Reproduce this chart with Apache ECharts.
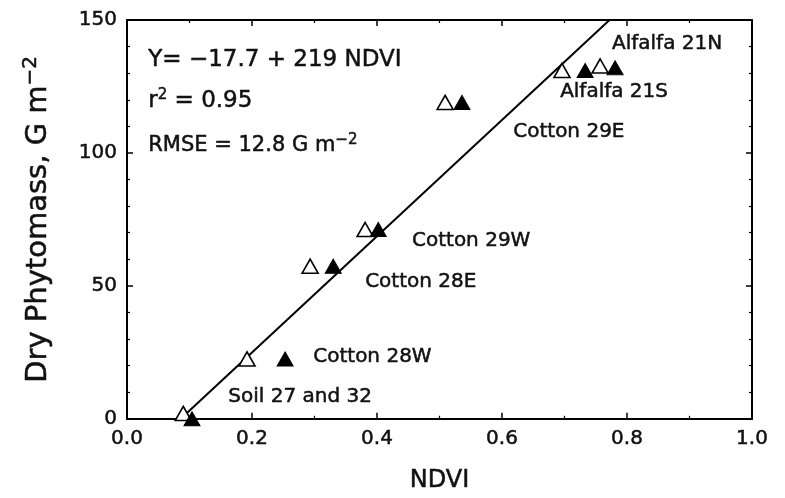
<!DOCTYPE html>
<html>
<head>
<meta charset="utf-8">
<script src="https://cdn.jsdelivr.net/npm/echarts@6/dist/echarts.min.js"></script>
<style>html,body{margin:0;padding:0;background:#fff}#c{width:785px;height:498px}</style>
</head>
<body>
<div id="c"></div>
<script>
// Open triangles (NDVI, dry phytomass)
const openPoints = [[0.090, 2], [0.192, 22.5], [0.293, 57.4], [0.381, 71.2], [0.509, 119], [0.696, 131], [0.757, 132.7]];
// Filled triangles
const filledPoints = [[0.104, 0], [0.253, 22.5], [0.330, 57.4], [0.402, 71.2], [0.536, 119], [0.733, 131], [0.781, 132]];
// Regression line endpoints as drawn (Y = -17.7 + 219 NDVI)
const fitLine = [[0.086, 0], [0.772, 150]];
// Site labels
const siteLabels = ['Alfalfa 21N', 'Alfalfa 21S', 'Cotton 29E', 'Cotton 29W', 'Cotton 28E', 'Cotton 28W', 'Soil 27 and 32'];
const siteLabelAt = [[0.776, 141], [0.693, 123], [0.618, 108], [0.456, 67.1], [0.381, 51.7], [0.298, 23.2], [0.162, 8.2]];
// Statistics text
const statLabels = ['{r|Y= \u221217.7 + 219 NDVI}', '{r|r}{s|2}{r| = 0.95}', '{m|RMSE = 12.8 G m}{s|\u22122}'];
const statLabelAt = [[0.034, 135], [0.034, 119.4], [0.034, 102.6]];
const xTicks = ['0.0', '0.2', '0.4', '0.6', '0.8', '1.0'];
const yTicks = ['0', '50', '100', '150'];

const FONT = 'DejaVu Sans';
const INK = '#111';
const thick = {textBorderColor: INK, textBorderWidth: 0.5};
const chart = echarts.init(document.getElementById('c'));

const baseAxis = {
  axisLine: {show: true, onZero: false, lineStyle: {color: '#000', width: 2}},
  axisTick: {show: true, inside: true, length: 6, lineStyle: {color: '#000', width: 1.5}},
  minorTick: {show: true, length: 3, lineStyle: {color: '#000', width: 1.2}},
  splitLine: {show: false},
  minorSplitLine: {show: false}
};

const labelData = siteLabels.map((t, i) => ({value: siteLabelAt[i], name: t}));
const statData = statLabels.map((t, i) => ({value: statLabelAt[i], name: t}));

chart.setOption({
  animation: false,
  backgroundColor: '#fff',
  grid: {left: 127, right: 33, top: 20, bottom: 78},
  xAxis: [
    Object.assign({}, baseAxis, {
      type: 'value', min: 0, max: 1, interval: 0.2, position: 'bottom',
      minorTick: Object.assign({}, baseAxis.minorTick, {splitNumber: 2}),
      axisLabel: Object.assign({margin: 10, color: INK, fontFamily: FONT, fontSize: 20,
        formatter: v => xTicks[Math.round(v / 0.2)]}, thick),
      name: 'NDVI', nameLocation: 'middle', nameGap: 50,
      nameTextStyle: Object.assign({color: INK, fontFamily: FONT, fontSize: 24}, thick)
    }),
    Object.assign({}, baseAxis, {
      type: 'value', min: 0, max: 1, interval: 0.2, position: 'top',
      minorTick: Object.assign({}, baseAxis.minorTick, {splitNumber: 2}),
      axisLabel: {show: false}
    })
  ],
  yAxis: [
    Object.assign({}, baseAxis, {
      type: 'value', min: 0, max: 150, interval: 50, position: 'left',
      minorTick: Object.assign({}, baseAxis.minorTick, {splitNumber: 5}),
      axisLabel: Object.assign({margin: 10, color: INK, fontFamily: FONT, fontSize: 20,
        formatter: v => yTicks[Math.round(v / 50)]}, thick),
      name: '{a|Dry Phytomass, G m}{s|\u22122}', nameLocation: 'middle', nameGap: 72,
      nameTextStyle: {color: INK, fontFamily: FONT, fontSize: 29,
        rich: {a: Object.assign({fontFamily: FONT, fontSize: 29, color: INK}, thick),
               s: Object.assign({fontFamily: FONT, fontSize: 20, color: INK, padding: [0, 0, 14, 0]}, thick)}}
    }),
    Object.assign({}, baseAxis, {
      type: 'value', min: 0, max: 150, interval: 50, position: 'right',
      minorTick: Object.assign({}, baseAxis.minorTick, {splitNumber: 5}),
      axisLabel: {show: false}
    })
  ],
  series: [
    {
      type: 'line', data: fitLine, showSymbol: false, symbol: 'none',
      lineStyle: {color: '#000', width: 2}, clip: true, silent: true, z: 2
    },
    {
      type: 'scatter', data: openPoints, symbol: 'triangle', symbolSize: [16, 14],
      itemStyle: {color: '#fff', borderColor: '#000', borderWidth: 1.6, opacity: 1}, clip: false, z: 3
    },
    {
      type: 'scatter', data: filledPoints, symbol: 'triangle', symbolSize: [16, 14],
      itemStyle: {color: '#000', borderColor: '#000', borderWidth: 1, opacity: 1}, clip: false, z: 4
    },
    {
      type: 'scatter', data: labelData, symbolSize: 0, silent: true, z: 5,
      itemStyle: {opacity: 1},
      label: Object.assign({show: true, position: 'right', distance: 0, formatter: p => p.name,
        color: INK, fontFamily: FONT, fontSize: 20, align: 'left', verticalAlign: 'middle'}, thick)
    },
    {
      type: 'scatter', data: statData, symbolSize: 0, silent: true, z: 5,
      itemStyle: {opacity: 1},
      label: {show: true, position: 'right', distance: 0, formatter: p => p.name,
        color: INK, fontFamily: FONT, fontSize: 23, align: 'left', verticalAlign: 'middle',
        rich: {
          r: Object.assign({fontFamily: FONT, fontSize: 23, color: INK}, thick),
          m: Object.assign({fontFamily: FONT, fontSize: 21, color: INK}, thick),
          s: Object.assign({fontFamily: FONT, fontSize: 15, color: INK, padding: [0, 0, 12, 0]}, thick)
        }}
    }
  ]
});
</script>
</body>
</html>
